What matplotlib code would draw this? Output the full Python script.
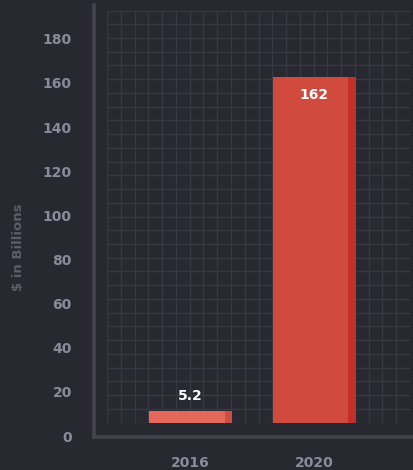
import matplotlib
matplotlib.use("Agg")
import matplotlib.pyplot as plt
import numpy as np

# data
years = ["2016", "2020"]
values = [5.2, 162]
y_ticks = [0, 20, 40, 60, 80, 100, 120, 140, 160, 180]

BG = "#282830"
GRID = "#383844"
SPINE = "#44434f"
TICK = "#8c8a9a"
FACE = ["#e5685a", "#d14a3e"]
EDGE = ["#d04c40", "#c22f29"]

plt.rcParams.update({'font.family': ['DejaVu Sans'], 'font.weight': 'bold'})

W, H = 414, 470
fig = plt.figure(figsize=(W / 100, H / 100), dpi=100)
fig.patch.set_facecolor(BG)

def box(x0, y0, x1, y1):
    # pixel box (top-left origin) -> figure fraction
    return [x0 / W, (H - y1) / H, (x1 - x0) / W, (y1 - y0) / H]

# outer frame with the value axis
outer = fig.add_axes(box(94, 5, 414, 437))
outer.set_facecolor("none")
outer.set_xlim(0, 1)
outer.set_ylim(-0.45, 195.3)
for s in ["top", "right"]:
    outer.spines[s].set_visible(False)
for s in ["left", "bottom"]:
    outer.spines[s].set_color(SPINE)
    outer.spines[s].set_linewidth(2.6)
outer.set_xticks([])
outer.set_yticks(y_ticks)
outer.tick_params(axis="y", length=0, pad=16, colors=TICK, labelsize=10)
for t in outer.get_yticklabels():
    t.set_fontweight("bold")
outer.set_ylabel("$ in Billions", color="#5e5c6b", fontsize=9.5, fontweight="bold")
outer.yaxis.set_label_coords(-0.215, 0.44)

# inner grid + bars
ax = fig.add_axes(box(107, 10.5, 410, 422.5))
ax.set_facecolor("none")
xmin, xmax = -0.676, 1.777
ymax = 193.0
ax.set_xlim(xmin, xmax)
ax.set_ylim(0, ymax)
for s in ax.spines.values():
    s.set_visible(False)
ax.set_xticks(np.linspace(xmin, xmax, 23), minor=True)
ax.set_yticks(np.linspace(0, ymax, 31), minor=True)
ax.set_yticks([])
ax.grid(which="minor", color=GRID, linewidth=1.0)
ax.tick_params(which="minor", length=0)
ax.set_axisbelow(True)

x = np.arange(len(years))
bw = 0.672
stripe = 0.057
for i, v in enumerate(values):
    ax.bar(x[i], v, width=bw, color=FACE[i], zorder=3)
    ax.bar(x[i] + bw / 2 - stripe, v, width=stripe, align="edge", color=EDGE[i], zorder=4)
    if v < 20:
        ax.annotate(f"{v:g}", (x[i], v), xytext=(0, 11), textcoords="offset points",
                    ha="center", va="center", color="white", fontsize=10, fontweight="bold", zorder=5)
    else:
        ax.annotate(f"{v:g}", (x[i], v), xytext=(0, -13), textcoords="offset points",
                    ha="center", va="center", color="white", fontsize=10, fontweight="bold", zorder=5)

ax.set_xticks(x)
ax.set_xticklabels(years)
ax.tick_params(axis="x", which="major", length=0, pad=24, colors=TICK, labelsize=10)
for t in ax.get_xticklabels():
    t.set_fontweight("bold")

fig.savefig("out.png", dpi=100, facecolor=BG)
